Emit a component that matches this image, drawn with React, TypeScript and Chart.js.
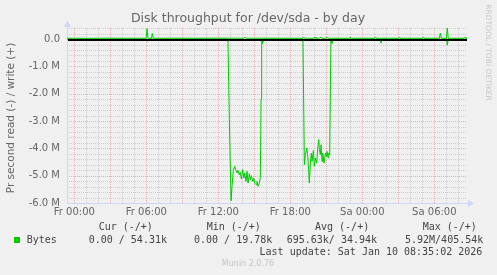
import React, { useEffect, useRef } from "react";
import { Chart, registerables } from "chart.js";

Chart.register(...registerables);

// ---- text ----
const TITLE = "Disk throughput for /dev/sda - by day";
const Y_TITLE = "Pr second read (-) / write (+)";
const WATERMARK = "RRDTOOL / TOBI OETIKER";
const FOOTER = "Munin 2.0.76";
const LAST_UPDATE = "Last update: Sat Jan 10 08:35:02 2026";
const SERIES_NAME = "Bytes";
const legendHeaders = ["Cur (-/+)", "Min (-/+)", "Avg (-/+)", "Max (-/+)"];
const legendValues = ["0.00 / 54.31k", "0.00 / 19.78k", "695.63k/ 34.94k", "5.92M/405.54k"];

// ---- axes (x in hours from Fr 00:00, y in M bytes/s) ----
const X_MIN = -0.61;
const X_MAX = 32.72;
const Y_MIN = -6;
const Y_MAX = 0.40554;
const xTickHours = [0, 6, 12, 18, 24, 30];
const xTickLabels = ["Fr 00:00", "Fr 06:00", "Fr 12:00", "Fr 18:00", "Sa 00:00", "Sa 06:00"];
const yTickValues = [0, -1, -2, -3, -4, -5, -6];
const yTickLabels = ["0.0", "-1.0 M", "-2.0 M", "-3.0 M", "-4.0 M", "-5.0 M", "-6.0 M"];

// ---- series: read (negative) ----
const readHours = [
  -0.61, 0.05, 0.12, 0.2, 6.0, 6.08, 6.16, 12.8, 12.917, 13.06, 13.15, 13.25,
  13.37, 13.47, 13.56, 13.64, 13.75, 13.83, 13.92, 14.03, 14.12, 14.2, 14.31, 14.39,
  14.48, 14.58, 14.67, 14.75, 14.87, 14.95, 15.03, 15.14, 15.22, 15.31, 15.42, 15.5,
  15.56, 15.61, 15.69, 15.78, 19.05,
  19.17, 19.25, 19.37, 19.45, 19.52, 19.58, 19.67, 19.75, 19.81, 19.92, 20.0, 20.08,
  20.2, 20.28, 20.37, 20.42, 20.5, 20.56, 20.64, 20.7, 20.81, 20.92, 21.0, 21.06,
  21.14, 21.2, 21.28,
  21.38, 21.47, 21.55, 25.5, 25.56, 25.64, 30.45, 30.53, 30.6, 31.0, 31.08, 31.16, 32.72,
];
const readM = [
  0, 0, -0.06, 0, 0, -0.08, 0, 0, -2.95, -5.92, -5.35, -4.8,
  -4.66, -4.81, -4.9, -4.81, -4.97, -4.88, -5.12, -4.78, -5.09, -4.9, -5.21, -4.84,
  -5.27, -4.93, -5.15, -5.0, -5.21, -5.09, -5.27, -5.33, -5.21, -5.39, -5.27, -5.07,
  -2.2, 0, -0.17, 0, 0,
  -4.6, -4.23, -3.99, -4.3, -4.78, -5.27, -4.54, -4.17, -4.48, -4.08, -4.66, -4.35,
  -4.54, -3.99, -3.68, -4.05, -4.23, -3.87, -4.48, -4.17, -4.54, -4.17, -4.3, -4.11,
  -4.35, -4.17, -4.23,
  0, -0.17, 0, 0, -0.15, 0, 0, -0.05, 0, 0, -0.22, 0, 0,
];

// ---- series: write (positive) ----
const writeHours = [
  -0.61, 1.5, 3.0, 4.5,
  5.98, 6.06, 6.14,
  6.42, 6.5, 6.58,
  8.0, 10.0, 12.0,
  14.12, 14.2, 14.28,
  16.0, 18.0,
  19.05, 19.12, 19.2,
  20.0, 20.06, 20.13,
  20.45, 20.52, 20.6,
  20.95, 21.03, 21.1,
  22.92, 23.0, 23.07,
  25.02, 25.1, 25.17,
  27.02, 27.1, 27.17,
  29.02, 29.1, 29.17,
  30.42, 30.5, 30.58,
  31.0, 31.08, 31.16,
  32.45, 32.53, 32.6,
  32.72,
];
const writeM = [
  0.03, 0.028, 0.032, 0.03,
  0.03, 0.377, 0.03,
  0.03, 0.205, 0.03,
  0.032, 0.03, 0.034,
  0.03, 0.075, 0.03,
  0.032, 0.03,
  0.03, 0.075, 0.03,
  0.03, 0.075, 0.03,
  0.03, 0.075, 0.03,
  0.03, 0.075, 0.03,
  0.03, 0.075, 0.03,
  0.03, 0.075, 0.03,
  0.03, 0.075, 0.03,
  0.03, 0.075, 0.03,
  0.03, 0.22, 0.03,
  0.03, 0.40554, 0.03,
  0.03, 0.075, 0.03,
  0.05431,
];

const W = 497;
const H = 275;
const GREEN = "#00cc00";
const FONT_COLOR = "#666666";
const AXIS_COLOR = "#cfd6f8";

const muninPlugin = {
  id: "muninDecor",
  beforeDraw(chart: any) {
    const ctx = chart.ctx;
    ctx.save();
    ctx.fillStyle = "#f0f0f0";
    ctx.fillRect(0, 0, chart.width, chart.height);
    ctx.restore();
  },
  beforeDatasetsDraw(chart: any) {
    const ctx = chart.ctx;
    const { left, right, top, bottom } = chart.chartArea;
    const xs = chart.scales.x;
    const ys = chart.scales.y;
    ctx.save();
    ctx.lineWidth = 1;
    ctx.setLineDash([1, 1]);
    const drawGrid = (major: boolean) => {
      ctx.strokeStyle = major ? "rgba(225,95,95,0.42)" : "rgba(150,150,150,0.38)";
      for (let h = Math.ceil(X_MIN); h <= X_MAX; h++) {
        const isMajor = h % 3 === 0;
        if (isMajor !== major) continue;
        const x = Math.round(xs.getPixelForValue(h)) + 0.5;
        ctx.beginPath();
        ctx.moveTo(x, bottom);
        ctx.lineTo(x, top);
        ctx.stroke();
      }
      for (let k = -30; k <= 2; k++) {
        const isMajor = k % 5 === 0;
        if (isMajor !== major) continue;
        const y = Math.round(ys.getPixelForValue(k * 0.2)) + 0.5;
        ctx.beginPath();
        ctx.moveTo(left, y);
        ctx.lineTo(right, y);
        ctx.stroke();
      }
    };
    drawGrid(false);
    drawGrid(true);
    ctx.setLineDash([]);
    // axes
    ctx.strokeStyle = AXIS_COLOR;
    ctx.fillStyle = AXIS_COLOR;
    const ax = Math.round(left) + 0.5;
    const ay = Math.round(bottom) + 0.5;
    ctx.beginPath();
    ctx.moveTo(ax, ay);
    ctx.lineTo(ax, top - 3);
    ctx.moveTo(ax, ay);
    ctx.lineTo(right + 3, ay);
    ctx.stroke();
    ctx.beginPath();
    ctx.moveTo(ax, top - 7);
    ctx.lineTo(ax - 3.5, top - 1);
    ctx.lineTo(ax + 3.5, top - 1);
    ctx.closePath();
    ctx.fill();
    ctx.beginPath();
    ctx.moveTo(right + 7, ay);
    ctx.lineTo(right + 1, ay - 3.5);
    ctx.lineTo(right + 1, ay + 3.5);
    ctx.closePath();
    ctx.fill();
    ctx.restore();
  },
  afterDatasetsDraw(chart: any) {
    const ctx = chart.ctx;
    const { left, right } = chart.chartArea;
    const y0 = Math.round(chart.scales.y.getPixelForValue(0));
    ctx.save();
    ctx.fillStyle = "#000000";
    ctx.fillRect(left + 1, y0, right - left - 1, 2);
    ctx.restore();
  },
  afterDraw(chart: any) {
    const ctx = chart.ctx;
    ctx.save();
    // title
    ctx.fillStyle = FONT_COLOR;
    ctx.font = "12.5px 'DejaVu Sans'";
    ctx.textAlign = "center";
    ctx.textBaseline = "middle";
    ctx.fillText(TITLE, 248, 19);
    // y title
    ctx.save();
    ctx.translate(11, 118);
    ctx.rotate(-Math.PI / 2);
    ctx.font = "10.5px 'DejaVu Sans'";
    ctx.fillText(Y_TITLE, 0, 0);
    ctx.restore();
    // watermark
    ctx.save();
    ctx.translate(487.5, 52.5);
    ctx.rotate(Math.PI / 2);
    ctx.fillStyle = "#c8c8c8";
    ctx.font = "7.5px 'DejaVu Sans'";
    ctx.fillText(WATERMARK, 0, 0);
    ctx.restore();
    // footer
    ctx.fillStyle = "#c4c4c4";
    ctx.font = "8px 'DejaVu Sans'";
    ctx.fillText(FOOTER, 248, 264);
    // legend
    ctx.font = "10px 'DejaVu Sans Mono'";
    ctx.fillStyle = "#444444";
    ctx.textAlign = "left";
    const headerX = [98.7, 206.7, 315, 422.7];
    legendHeaders.forEach((t, i) => ctx.fillText(t, headerX[i], 227.5));
    ctx.fillStyle = GREEN;
    ctx.fillRect(14, 237, 6, 6);
    ctx.fillStyle = "#444444";
    ctx.fillText(SERIES_NAME, 26.7, 240);
    const valueX = [88.7, 194, 286.7, 405];
    legendValues.forEach((t, i) => ctx.fillText(t, valueX[i], 240));
    ctx.textAlign = "right";
    ctx.fillText(LAST_UPDATE, 482.3, 252);
    ctx.restore();
  },
};

export default function App() {
  const ref = useRef<HTMLCanvasElement | null>(null);
  useEffect(() => {
    if (!ref.current) return;
    const readData = readHours.map((h, i) => ({ x: h, y: readM[i] }));
    const writeData = writeHours.map((h, i) => ({ x: h, y: writeM[i] }));
    const tickFont = { family: "'DejaVu Sans'", size: 10 };
    const chart = new Chart(ref.current, {
      type: "line",
      data: {
        datasets: [
          { label: "read", data: readData, borderColor: GREEN, borderWidth: 1, pointRadius: 0, fill: false, tension: 0 },
          { label: "write", data: writeData, borderColor: GREEN, borderWidth: 1, pointRadius: 0, fill: false, tension: 0 },
        ],
      },
      options: {
        animation: false,
        responsive: false,
        devicePixelRatio: 1,
        layout: { padding: { top: 28, right: 30, left: 0, bottom: 0 } },
        plugins: { legend: { display: false }, tooltip: { enabled: false }, title: { display: false } },
        scales: {
          x: {
            type: "linear",
            min: X_MIN,
            max: X_MAX,
            grid: { display: false, drawTicks: false },
            border: { display: false },
            afterBuildTicks: (s: any) => {
              s.ticks = xTickHours.map((v) => ({ value: v }));
            },
            afterFit: (s: any) => {
              s.height = 72;
            },
            ticks: {
              autoSkip: false,
              maxRotation: 0,
              minRotation: 0,
              padding: 3,
              color: FONT_COLOR,
              font: tickFont,
              callback: (v: any) => {
                const i = xTickHours.indexOf(Number(v));
                return i >= 0 ? xTickLabels[i] : "";
              },
            },
          },
          y: {
            type: "linear",
            min: Y_MIN,
            max: Y_MAX,
            grid: { display: false, drawTicks: false },
            border: { display: false },
            afterBuildTicks: (s: any) => {
              s.ticks = yTickValues.map((v) => ({ value: v }));
            },
            afterFit: (s: any) => {
              s.width = 67;
            },
            ticks: {
              autoSkip: false,
              padding: 7,
              color: FONT_COLOR,
              font: tickFont,
              callback: (v: any) => {
                const i = yTickValues.indexOf(Number(v));
                return i >= 0 ? yTickLabels[i] : "";
              },
            },
          },
        },
      },
      plugins: [muninPlugin],
    } as any);
    return () => chart.destroy();
  }, []);
  return (
    <canvas
      ref={ref}
      width={W}
      height={H}
      style={{ position: "fixed", left: 0, top: 0, width: W, height: H, display: "block" }}
    />
  );
}
